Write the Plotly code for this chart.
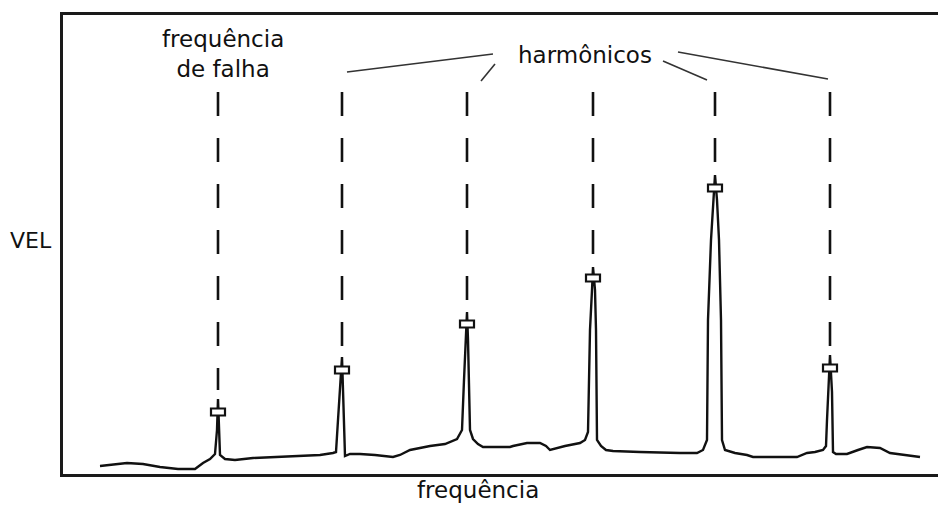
import plotly.graph_objects as go

# spectrum trace (frequency units ~ horizontal position, velocity units)
freq = [100, 110, 127, 143, 160, 178, 195, 203, 210, 215, 217, 218, 219, 220, 225, 235,
        253, 280, 300, 320, 333, 336, 338, 340, 342, 343, 344, 345, 350, 360, 375, 393,
        400, 410, 430, 445, 457, 462, 464, 466, 467, 468, 469, 470, 473, 478, 483, 495,
        510, 513, 527, 540, 546, 550, 565, 580, 585, 588, 590, 592, 593, 595, 596, 597,
        601, 606, 613, 640, 663, 680, 697, 703, 707, 708, 711, 713, 715, 717, 719, 721,
        722, 725, 735, 747, 753, 775, 797, 807, 815, 823, 826, 827, 828, 830, 832, 833,
        836, 847, 858, 867, 880, 890, 905, 920]
vel = [8, 9, 11, 10, 7, 5, 5, 11, 15, 20, 44, 75, 44, 19, 15, 14,
       16, 17, 18, 19, 21, 22, 54, 84, 117, 84, 54, 18, 20, 20, 19, 17,
       19, 24, 28, 30, 35, 44, 94, 134, 162, 134, 94, 44, 35, 30, 27, 27,
       27, 28, 31, 31, 28, 24, 28, 31, 34, 42, 144, 184, 207, 184, 144, 34,
       28, 24, 23, 22, 21, 21, 21, 24, 34, 154, 234, 274, 299, 274, 234, 154,
       34, 24, 21, 19, 17, 17, 17, 21, 22, 24, 28, 54, 82, 119, 82, 22,
       20, 20, 24, 27, 26, 21, 19, 17]

# peak markers (harmonic family)
peak_freq = [218, 342, 467, 593, 715, 830]
peak_vel = [62, 104, 150, 196, 286, 106]
guide_top = 382

cap_w, cap_h = 7, 3.5

fig = go.Figure()

# dashed guide lines
for pf, pv in zip(peak_freq, peak_vel):
    fig.add_trace(go.Scatter(x=[pf, pf], y=[guide_top, pv + 22], mode="lines",
                             line=dict(color="#111", width=2.6, dash="24px,22px"),
                             hoverinfo="skip", showlegend=False))

fig.add_trace(go.Scatter(x=freq, y=vel, mode="lines",
                         line=dict(color="#111", width=2.4),
                         hoverinfo="skip", showlegend=False))

shapes = []
for pf, pv in zip(peak_freq, peak_vel):
    shapes.append(dict(type="rect", xref="x", yref="y",
                       x0=pf - cap_w, x1=pf + cap_w, y0=pv - cap_h, y1=pv + cap_h,
                       fillcolor="white", line=dict(color="#111", width=2.2), layer="above"))

# leader lines from label "harmônicos"
leaders = [((347, 402), (493, 420)), ((495, 410), (481, 393)),
           ((663, 413), (707, 394)), ((678, 422), (828, 395))]
for (xa, ya), (xb, yb) in leaders:
    shapes.append(dict(type="line", xref="x", yref="y", x0=xa, y0=ya, x1=xb, y1=yb,
                       line=dict(color="#333", width=1.6)))

font_main = "DejaVu Sans, Verdana, sans-serif"
annotations = [
    dict(x=223, y=420, xref="x", yref="y", text="frequência<br>de falha", showarrow=False,
         font=dict(family=font_main, size=23, color="#111"), align="center"),
    dict(x=585, y=419, xref="x", yref="y", text="harmônicos", showarrow=False,
         font=dict(family=font_main, size=23, color="#111")),
    dict(text="VEL", showarrow=False,
         font=dict(family=font_main, size=22, color="#111")),
    dict(text="frequência", showarrow=False,
         font=dict(family=font_main, size=23, color="#111")),
]
# place axis labels (VEL and bottom label) in paper coords
W, H = 938, 506
L, R, T, B = 63, 0, 15, 32
pw, ph = W - L - R, H - T - B
annotations[2].update(xref="paper", yref="paper", x=(31 - L) / pw, y=(H - B - 240) / ph)
annotations[3].update(xref="paper", yref="paper", x=(478 - L) / pw, y=(H - B - 490) / ph)
for a in annotations[2:]:
    a.update(xanchor="center", yanchor="middle")

fig.update_layout(
    width=W, height=H,
    margin=dict(l=L, r=R, t=T, b=B),
    paper_bgcolor="white", plot_bgcolor="white",
    xaxis=dict(range=[63, 938], showgrid=False, zeroline=False, showticklabels=False,
               ticks="", showline=True, mirror=True, linecolor="#1a1a1a", linewidth=3),
    yaxis=dict(range=[0, 459], showgrid=False, zeroline=False, showticklabels=False,
               ticks="", showline=True, linecolor="#1a1a1a", linewidth=3),
    shapes=shapes, annotations=annotations,
)

fig.write_html("out.html")
